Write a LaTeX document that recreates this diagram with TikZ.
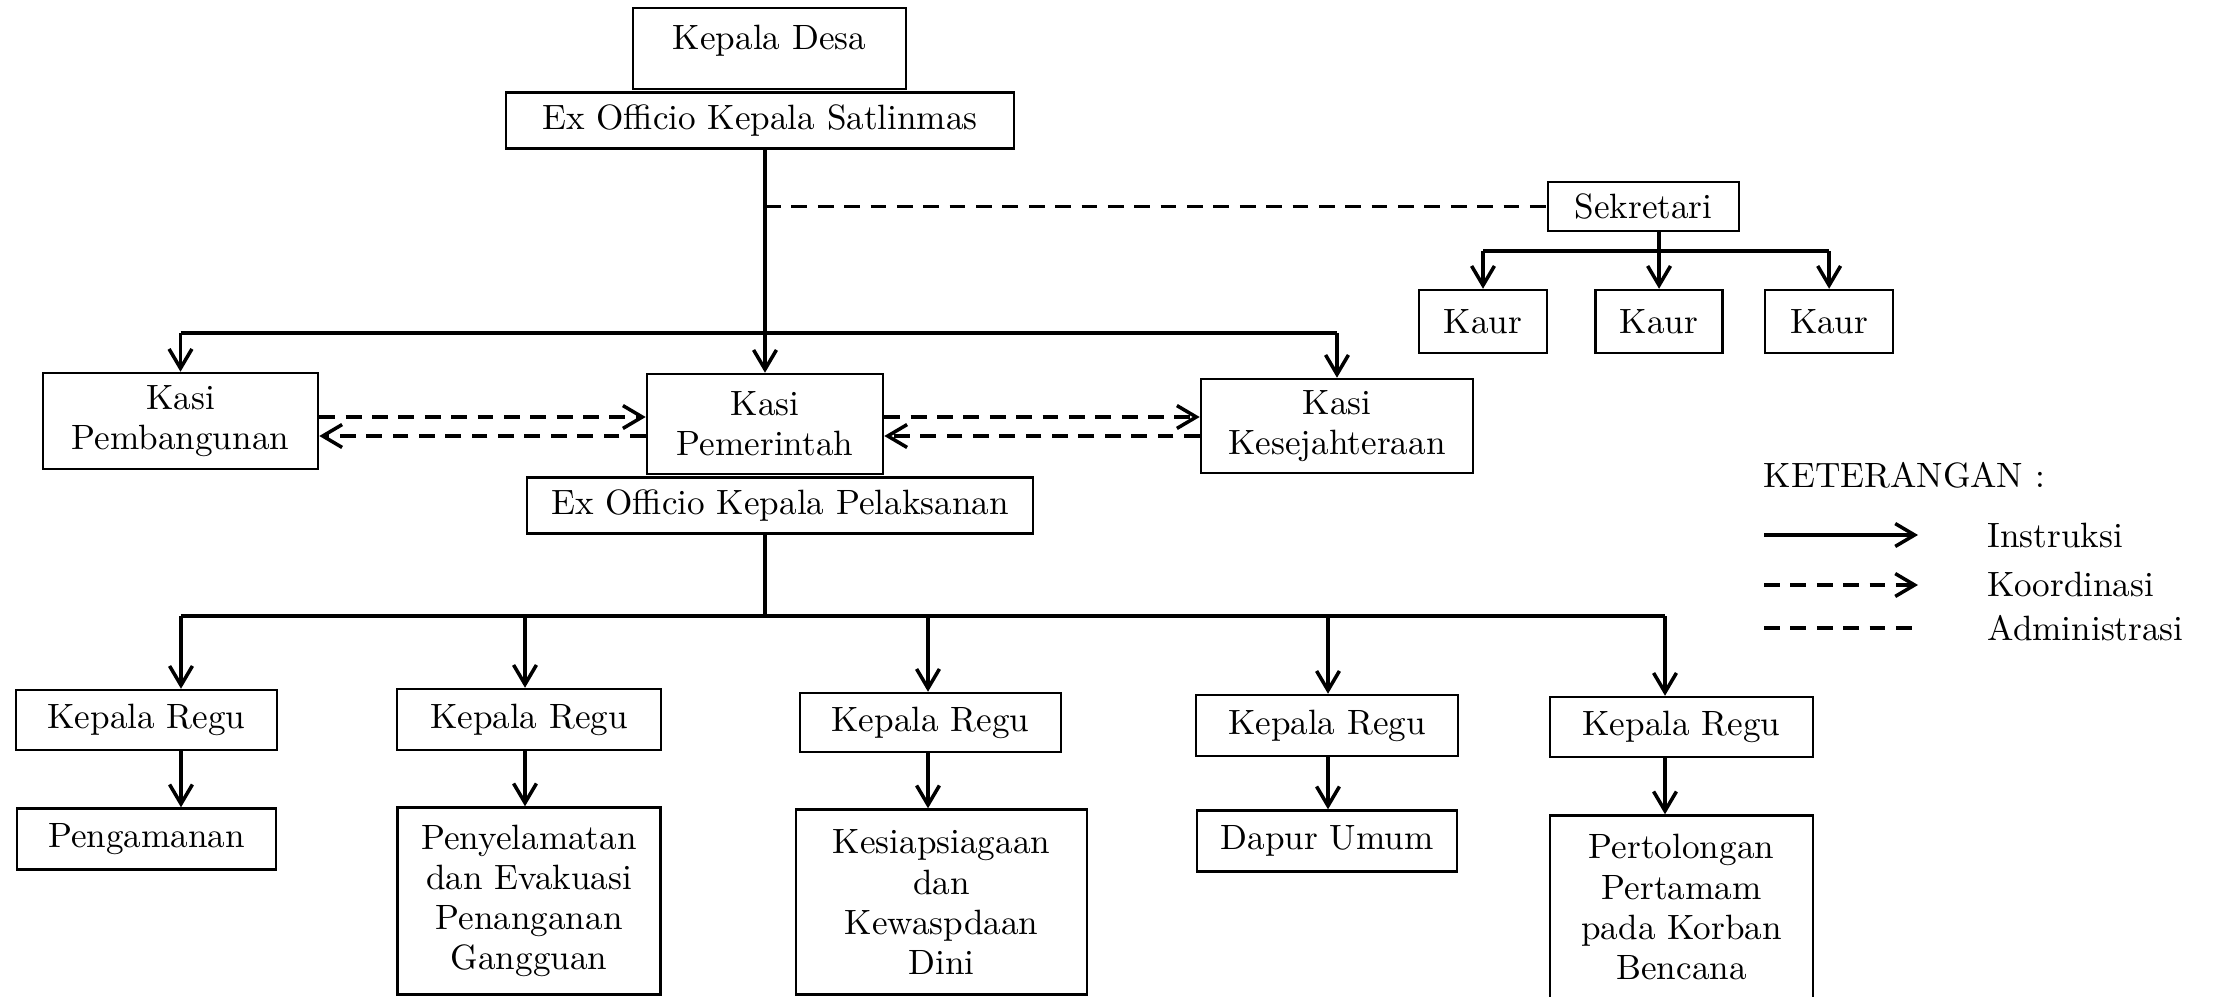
\documentclass[tikz,border=0pt]{standalone}
\usepackage{tikz}
\usetikzlibrary{positioning,arrows.meta}

\begin{document}
\begin{tikzpicture}[x=0.01cm, y=-0.01cm,
  box/.style={draw, line width=0.7pt, inner sep=0pt, text centered, align=center,
    font=\fontsize{10}{11.4}\selectfont},
  plain/.style={line width=1pt},
  instr/.style={plain, -{Straight Barb[length=5.5pt, width=6.5pt, line width=1pt]}},
  koord/.style={instr, dash pattern=on 4.5pt off 3pt},
  admin/.style={plain, dash pattern=on 4.5pt off 3pt},
  legend/.style={anchor=west, inner sep=0pt, font=\fontsize{10}{11.4}\selectfont}]
  \useasboundingbox (0,0) rectangle (2215,997);

  % nodes
  \node[box, minimum width=2.73cm, minimum height=0.81cm, text depth=0.23cm] (desa) at (769.5,48.5) {Kepala Desa};
  \node[box, minimum width=5.08cm, minimum height=0.56cm, below=0.01cm of desa, xshift=-0.095cm] (satlin) {Ex Officio Kepala Satlinmas};

  \node[box, minimum width=1.91cm, minimum height=0.49cm] (sekr) at (1643.5,206.5) {Sekretari};
  \node[box, minimum width=1.28cm, minimum height=0.63cm] (kaur1) at (1483,321.5) {Kaur};
  \node[box, minimum width=1.27cm, minimum height=0.63cm, right=0.46cm of kaur1] (kaur2) {Kaur};
  \node[box, minimum width=1.28cm, minimum height=0.63cm, right=0.40cm of kaur2] (kaur3) {Kaur};

  \node[box, minimum width=2.75cm, minimum height=0.96cm] (pemb) at (180.5,421) {Kasi\\Pembangunan};
  \node[box, minimum width=2.36cm, minimum height=1.00cm] (pemr) at (765,424) {Kasi\\Pemerintah};
  \node[box, minimum width=2.72cm, minimum height=0.94cm] (kesej) at (1337,426) {Kasi\\Kesejahteraan};
  \node[box, minimum width=5.06cm, minimum height=0.56cm, below=0.01cm of pemr, xshift=0.15cm] (laks) {Ex Officio Kepala Pelaksanan};

  \node[box, minimum width=2.61cm, minimum height=0.60cm] (regu1) at (146.5,720) {Kepala Regu};
  \node[box, minimum width=2.64cm, minimum height=0.61cm] (regu2) at (529,719.5) {Kepala Regu};
  \node[box, minimum width=2.61cm, minimum height=0.59cm] (regu3) at (930.5,722.5) {Kepala Regu};
  \node[box, minimum width=2.62cm, minimum height=0.61cm] (regu4) at (1327,725.5) {Kepala Regu};
  \node[box, minimum width=2.63cm, minimum height=0.60cm] (regu5) at (1681.5,727) {Kepala Regu};

  \node[box, minimum width=2.59cm, minimum height=0.61cm, below=0.56cm of regu1] (tugas1) {Pengamanan};
  \node[box, minimum width=2.63cm, minimum height=1.87cm, below=0.55cm of regu2] (tugas2) {Penyelamatan\\dan Evakuasi\\Penanganan\\Gangguan};
  \node[box, minimum width=2.91cm, minimum height=1.85cm, below=0.55cm of regu3, xshift=0.11cm] (tugas3) {Kesiapsiagaan\\dan\\Kewaspdaan\\Dini};
  \node[box, minimum width=2.60cm, minimum height=0.61cm, below=0.52cm of regu4] (tugas4) {Dapur Umum};
  \node[box, minimum width=2.63cm, minimum height=1.83cm, below=0.56cm of regu5] (tugas5) {Pertolongan\\Pertamam\\pada Korban\\Bencana};

  % legend
  \node[legend] (ket) at (1763,475) {KETERANGAN :};
  \node[legend] (ins) at (1987,535) {Instruksi};
  \node[legend] (koo) at (1987,584) {Koordinasi};
  \node[legend] (adm) at (1987,628) {Administrasi};
  \coordinate (l1) at (1764,535);
  \coordinate (l2) at (1764,585);
  \coordinate (l3) at (1764,628);
  \draw[instr] (l1) -- ++(154,0);
  \draw[koord] (l2) -- ++(154,0);
  \draw[admin] (l3) -- ++(154,0);

  % edges
  \coordinate (bar) at (0,333);
  \draw[plain] (pemb.north |- bar) -- (kesej.north |- bar);
  \draw[instr] (satlin.south -| pemr.north) -- (pemr.north);
  \draw[instr] (pemb.north |- bar) -- (pemb.north);
  \draw[instr] (kesej.north |- bar) -- (kesej.north);
  \draw[admin] (sekr.west -| pemr.north) -- (sekr.west);

  \coordinate (kbar) at (0,251);
  \draw[plain] (sekr.south -| kaur2.north) -- (kaur2.north |- kbar);
  \draw[plain] (kaur1.north |- kbar) -- (kaur3.north |- kbar);
  \foreach \k in {1,2,3}
    \draw[instr] (kaur\k.north |- kbar) -- (kaur\k.north);

  \coordinate (kup) at (0,417);
  \coordinate (kdn) at (0,436);
  \draw[koord] (pemb.east |- kup) -- (pemr.west |- kup);
  \draw[koord] (pemr.west |- kdn) -- (pemb.east |- kdn);
  \draw[koord] (pemr.east |- kup) -- (kesej.west |- kup);
  \draw[koord] (kesej.west |- kdn) -- (pemr.east |- kdn);

  \coordinate (c1) at (181,616);
  \coordinate (c2) at (525,616);
  \coordinate (c3) at (928,616);
  \coordinate (c4) at (1328,616);
  \coordinate (c5) at (1665,616);
  \draw[plain] (laks.south -| pemr.north) -- (pemr.north |- c1);
  \draw[plain] (c1) -- (c5);
  \foreach \n in {1,...,5} {
    \draw[instr] (c\n) -- (c\n |- regu\n.north);
    \draw[instr] (c\n |- regu\n.south) -- (c\n |- tugas\n.north);
  }
\end{tikzpicture}
\end{document}
